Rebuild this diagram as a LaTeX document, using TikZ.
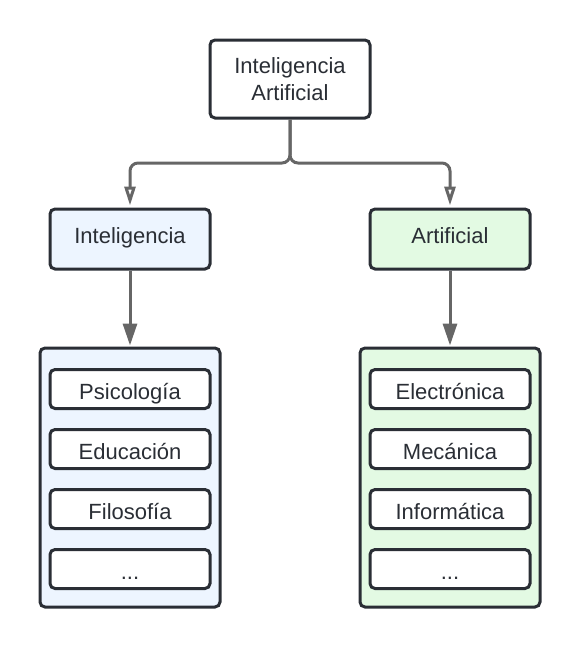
\documentclass[tikz,border=0pt]{standalone}
\usepackage{fontspec}
\setmainfont{Liberation Sans}
\usetikzlibrary{arrows.meta}
\definecolor{boxline}{HTML}{2A2E35}
\definecolor{linkgray}{HTML}{666666}
\definecolor{intblue}{HTML}{EDF5FF}
\definecolor{artgreen}{HTML}{E3FAE3}
\newcommand\etcdots{...}

\begin{document}
\begin{tikzpicture}[x=1pt, y=-1pt,
    box/.style={draw=boxline, line width=3pt, rounded corners=5pt, fill=white,
        minimum width=160pt, text=boxline, align=center,
        font=\fontsize{22}{27}\selectfont},
    midbox/.style={box, minimum height=60pt, text height=20pt, text depth=12pt},
    itembox/.style={box, minimum height=39pt, text height=20pt, text depth=0pt},
    listbox/.style={box, minimum width=180pt, minimum height=259pt},
    link/.style={draw=linkgray, line width=3pt, rounded corners=8pt},
    openarrow/.style={-{Triangle[open, length=19pt, width=11pt]}, shorten >=2pt},
    fullarrow/.style={-{Triangle[length=22pt, width=14pt]}, shorten >=1pt}]
    \useasboundingbox (0,0) rectangle (580,649);

    \node[box, minimum height=78pt] (ia) at (290,79) {Inteligencia\\Artificial};
    \node[midbox, fill=intblue] (int) at (130,239) {Inteligencia};
    \node[midbox, fill=artgreen] (art) at (450,239) {Artificial};

    \coordinate (split) at (290,163);
    \draw[link, openarrow] (ia.south) -- (split) -| (int.north);
    \draw[link, openarrow] (ia.south) -- (split) -| (art.north);

    % lists
    \node[listbox, fill=intblue] (intlist) at (130,477.5) {};
    \node[listbox, fill=artgreen] (artlist) at (450,477.5) {};
    \draw[link, fullarrow] (int.south) -- (intlist.north);
    \draw[link, fullarrow] (art.south) -- (artlist.north);

    \foreach \y/\t [count=\i] in {389/Psicología, 449/Educación, 509/Filosofía, 569/\etcdots}
        \node[itembox] (intitem\i) at (130,\y) {\t};
    \foreach \y/\t [count=\i] in {389/Electrónica, 449/Mecánica, 509/Informática, 569/\etcdots}
        \node[itembox] (artitem\i) at (450,\y) {\t};

\end{tikzpicture}
\end{document}
